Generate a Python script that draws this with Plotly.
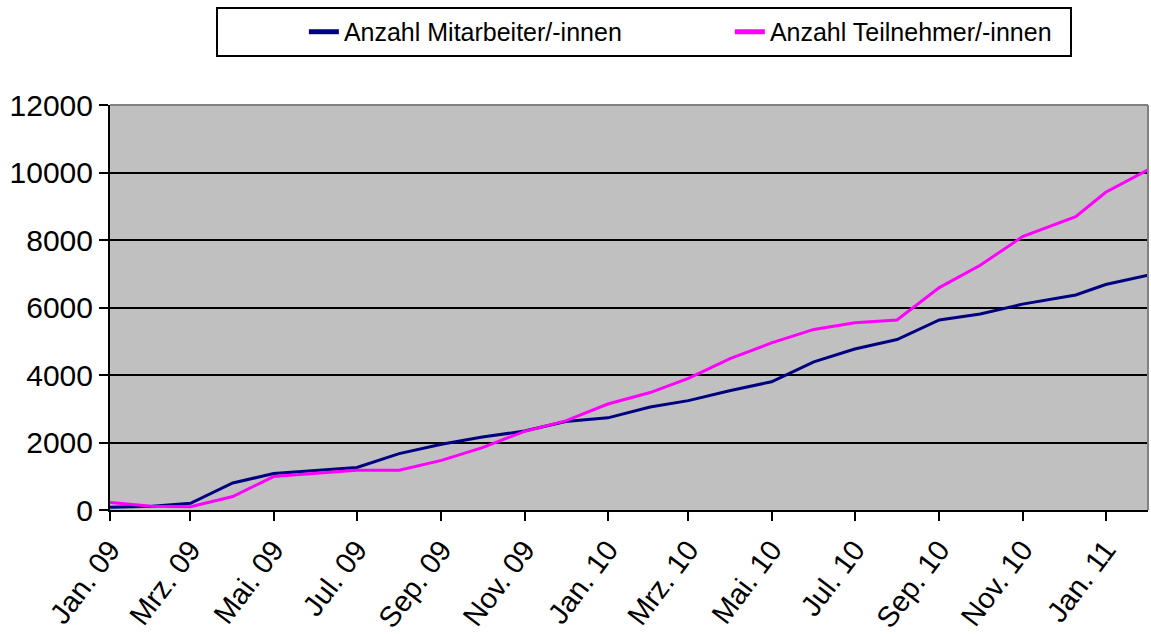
import plotly.graph_objects as go

dates = ["2009-01-01", "2009-02-01", "2009-03-01", "2009-04-01", "2009-05-01", "2009-06-01",
         "2009-07-01", "2009-08-01", "2009-09-01", "2009-10-01", "2009-11-01", "2009-12-01",
         "2010-01-01", "2010-02-01", "2010-03-01", "2010-04-01", "2010-05-01", "2010-06-01",
         "2010-07-01", "2010-08-01", "2010-09-01", "2010-10-01", "2010-11-01", "2010-12-10",
         "2011-01-01", "2011-02-01"]

mitarbeiter = [80, 110, 200, 800, 1080, 1170, 1260, 1670, 1950, 2160, 2340, 2620,
               2730, 3050, 3240, 3540, 3800, 4390, 4770, 5050, 5630, 5810, 6100, 6370,
               6680, 6960]

teilnehmer = [220, 110, 100, 400, 990, 1090, 1180, 1180, 1470, 1850, 2330, 2640,
              3140, 3480, 3900, 4490, 4950, 5350, 5550, 5630, 6590, 7250, 8100, 8690,
              9415, 10080]

tick_dates = ["2009-01-01", "2009-03-01", "2009-05-01", "2009-07-01", "2009-09-01", "2009-11-01",
              "2010-01-01", "2010-03-01", "2010-05-01", "2010-07-01", "2010-09-01", "2010-11-01",
              "2011-01-01"]
tick_labels = ["Jan. 09", "Mrz. 09", "Mai. 09", "Jul. 09", "Sep. 09", "Nov. 09",
               "Jan. 10", "Mrz. 10", "Mai. 10", "Jul. 10", "Sep. 10", "Nov. 10", "Jan. 11"]

FONT = "Liberation Sans, Arial, sans-serif"

fig = go.Figure()
fig.add_trace(go.Scatter(x=dates, y=mitarbeiter, mode="lines", name="Anzahl Mitarbeiter/-innen",
                         line=dict(color="#000080", width=3)))
fig.add_trace(go.Scatter(x=dates, y=teilnehmer, mode="lines", name="Anzahl Teilnehmer/-innen",
                         line=dict(color="#FF00FF", width=3)))

fig.update_layout(
    width=1151, height=634,
    margin=dict(l=110, r=3, t=105, b=124, autoexpand=False),
    paper_bgcolor="white",
    plot_bgcolor="#C0C0C0",
    font=dict(family=FONT, color="black", size=25),
    showlegend=True,
    legend=dict(
        orientation="h",
        x=0.102, xanchor="left",
        y=1.242, yanchor="top",
        bordercolor="black", borderwidth=2,
        bgcolor="white",
        font=dict(family=FONT, size=25, color="black"),
        entrywidth=295, entrywidthmode="pixels",
        indentation=86,
        itemsizing="constant",
    ),
    xaxis=dict(
        type="date",
        range=["2009-01-01", "2011-02-01"],
        tickmode="array", tickvals=tick_dates, ticktext=tick_labels,
        tickangle=-53,
        tickfont=dict(family=FONT, size=29, color="black"),
        ticks="outside", ticklen=9, tickwidth=2, tickcolor="black",
        showline=True, linecolor="black", linewidth=2,
        showgrid=False, zeroline=False, automargin=False,
    ),
    yaxis=dict(
        range=[0, 12000],
        tickmode="linear", tick0=0, dtick=2000, tickformat="d",
        tickfont=dict(family=FONT, size=30, color="black"),
        ticks="outside", ticklen=9, tickwidth=2, tickcolor="black",
        showline=True, linecolor="black", linewidth=2,
        showgrid=True, gridcolor="black", gridwidth=2,
        zeroline=False, automargin=False,
    ),
    shapes=[
        dict(type="line", xref="paper", yref="paper", x0=0, x1=1, y0=1, y1=1,
             line=dict(color="#808080", width=2), layer="above"),
        dict(type="line", xref="paper", yref="paper", x0=1, x1=1, y0=0, y1=1,
             line=dict(color="#808080", width=2), layer="above"),
    ],
)

fig.write_html("out.html",
               config={"displayModeBar": False},
               post_script="document.body.style.margin='0';document.body.style.overflow='hidden';")
